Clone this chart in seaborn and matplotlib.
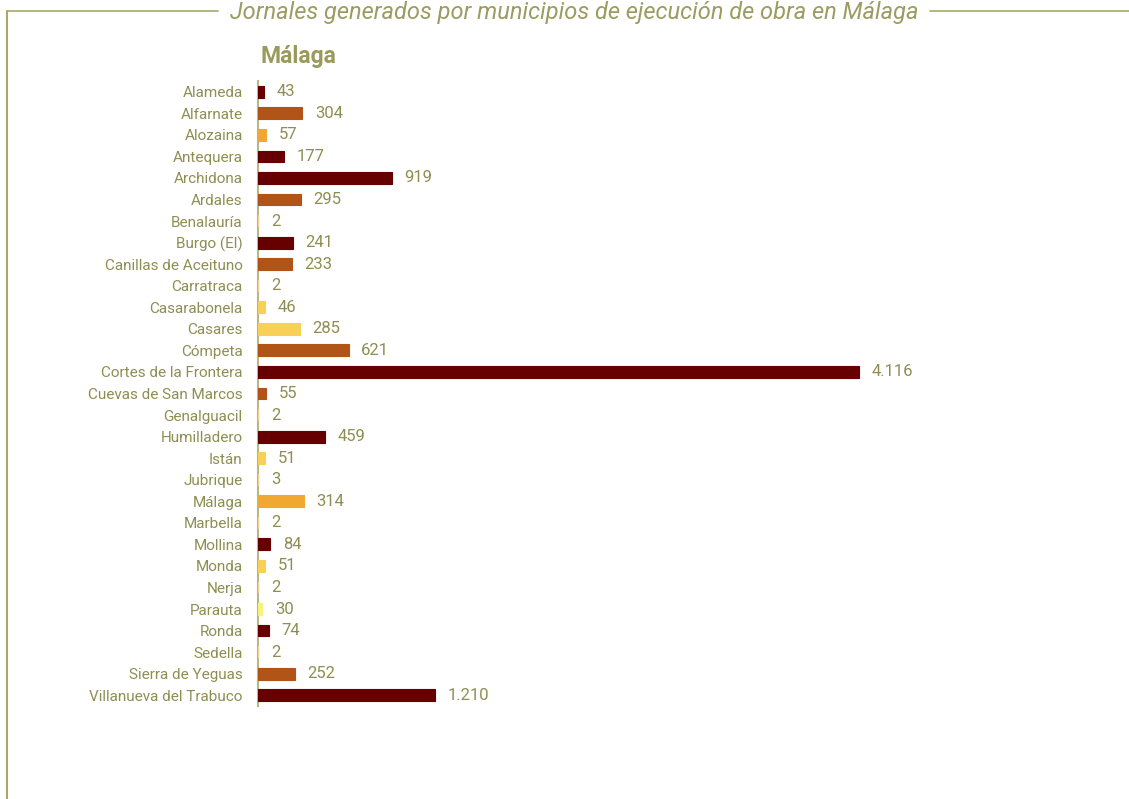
import matplotlib
matplotlib.use("Agg")
import matplotlib.pyplot as plt
import seaborn as sns
import pandas as pd
from matplotlib.lines import Line2D

municipios = ["Alameda", "Alfarnate", "Alozaina", "Antequera", "Archidona", "Ardales",
              "Benalauría", "Burgo (El)", "Canillas de Aceituno", "Carratraca",
              "Casarabonela", "Casares", "Cómpeta", "Cortes de la Frontera",
              "Cuevas de San Marcos", "Genalguacil", "Humilladero", "Istán", "Jubrique",
              "Málaga", "Marbella", "Mollina", "Monda", "Nerja", "Parauta", "Ronda",
              "Sedella", "Sierra de Yeguas", "Villanueva del Trabuco"]
jornales = [43, 304, 57, 177, 919, 295, 2, 241, 233, 2, 46, 285, 621, 4116, 55, 2,
            459, 51, 3, 314, 2, 84, 51, 2, 30, 74, 2, 252, 1210]
grupo = ["m", "b", "o", "m", "m", "b", "p", "m", "b", "p", "y", "y", "b", "m", "b", "p",
         "m", "y", "p", "o", "p", "m", "y", "p", "l", "m", "p", "b", "m"]

colores = {"m": "#660000", "b": "#B05418", "o": "#F0A832", "y": "#F8D058",
           "p": "#F4D08A", "l": "#F8F27A"}
olive = "#8E8E52"

df = pd.DataFrame({"municipio": municipios, "jornales": jornales, "grupo": grupo})
palette = {m: colores[g] for m, g in zip(municipios, grupo)}

sns.set_style("white")
plt.rcParams["font.family"] = ["Roboto", "DejaVu Sans"]

fig = plt.figure(figsize=(11.29, 7.99), dpi=100)
ax = fig.add_axes([258 / 1129, 1 - 706 / 799, (1100 - 258) / 1129, (706 - 81) / 799])

sns.barplot(data=df, y="municipio", x="jornales", hue="municipio", palette=palette,
            legend=False, orient="h", width=0.55, ax=ax, saturation=1)
for p in ax.patches:
    p.set_edgecolor(p.get_facecolor())
    p.set_linewidth(1.6 if p.get_width() < 10 else 0.8)
    p.set_zorder(3)

ax.set_xlim(0, (1100 - 258) / 0.146)
ax.set_ylim(len(municipios) - 0.5, -0.5)
ax.set_xlabel("")
ax.set_ylabel("")
ax.set_xticks([])
for s in ["top", "right", "bottom"]:
    ax.spines[s].set_visible(False)
ax.spines["left"].set_color("#B8B880")
ax.spines["left"].set_linewidth(1.5)
ax.tick_params(axis="y", length=0, pad=11, labelsize=11, labelcolor=olive)

def fmt(v):
    return f"{v:,}".replace(",", ".")

for i, v in enumerate(jornales):
    ax.annotate(fmt(v), xy=(v, i), xytext=(9, 0), textcoords="offset points",
                va="center", ha="left", fontsize=12, color=olive)

fig.text(260 / 1129, 1 - 57 / 799, "Málaga", fontsize=16.5, fontweight="bold",
         color="#9A9A5A", va="center", ha="left")

lc = "#A8A86A"
fig.add_artist(Line2D([7 / 1129, 218 / 1129], [1 - 11 / 799, 1 - 11 / 799],
                      transform=fig.transFigure, color=lc, lw=1.2))
fig.add_artist(Line2D([930 / 1129, 1129 / 1129], [1 - 11 / 799, 1 - 11 / 799],
                      transform=fig.transFigure, color=lc, lw=1.2))
fig.add_artist(Line2D([7 / 1129, 7 / 1129], [1 - 11 / 799, 0],
                      transform=fig.transFigure, color=lc, lw=1.5))
fig.text(574 / 1129, 1 - 13 / 799, "Jornales generados por municipios de ejecución de obra en Málaga",
         fontsize=17, style="italic", color="#9C9C62", va="center", ha="center",
         bbox=dict(facecolor="white", edgecolor="none", pad=2))

fig.savefig("out.png", dpi=100)
